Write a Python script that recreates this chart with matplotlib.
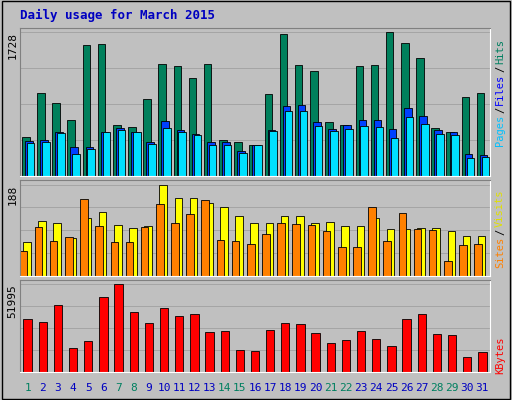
import matplotlib
matplotlib.use("Agg")
import matplotlib.pyplot as plt
import numpy as np

days = list(range(1, 32))
hits = [470,999,882,670,1575,1587,611,588,929,1352,1328,1176,1352,435,411,376,987,1704,1340,1258,647,611,1317,1340,1728,1599,1422,576,529,952,999]
files = [423,435,529,353,353,529,576,529,411,658,552,505,411,411,306,376,552,846,858,647,564,611,670,670,564,823,717,552,529,259,247]
pages = [400,411,517,259,329,529,552,529,388,576,529,494,376,376,282,376,541,776,776,600,541,564,600,588,458,705,623,505,494,212,223]
visits = [69,114,110,78,119,131,104,98,102,188,161,161,151,141,123,110,110,123,123,110,112,102,102,119,96,96,98,98,92,82,82]
sites = [51,100,72,80,159,102,69,69,100,149,110,127,157,74,72,65,86,110,106,104,92,59,59,141,72,129,96,94,31,63,65]
kbytes = [31318,29545,39590,14182,18318,44318,51995,35455,28955,37818,33091,34273,23636,24227,13000,12409,24818,28955,28364,23045,17136,18909,24227,19500,15364,31318,34273,22455,21864,8864,11818]
weekend = {1,7,8,14,15,21,22,28,29}

BG = "#C0C0C0"
fig = plt.figure(figsize=(5.12, 4.0), dpi=100, facecolor=BG)
mono = "DejaVu Sans Mono"
fig.text(20/512, 1-15/400, "Daily usage for March 2015", color="#0000C0", fontweight="bold",
         family=mono, fontsize=9, va="center", ha="left")

x = np.array(days)
def mk(bottom, height):
    ax = fig.add_axes([20/512, bottom, 470/512, height], facecolor=BG)
    ax.set_xlim(0.5, 31.5)
    for s in ax.spines.values():
        s.set_color("#808080")
    ax.spines["bottom"].set_color("white"); ax.spines["right"].set_color("white")
    ax.set_xticks([])
    ax.tick_params(axis="y", length=0, labelsize=8, pad=2)
    return ax

ax1 = mk(1-176/400, 148/400)
ax1.set_ylim(0, 1728*1.03)
for v in np.linspace(0, 1728, 5)[1:]:
    ax1.axhline(v, color="#A0A0A0", lw=0.6, zorder=0)
ax1.bar(x-0.12, hits, width=0.5, color="#00805C", edgecolor="black", lw=0.6)
ax1.bar(x+0.08, files, width=0.5, color="#0040FF", edgecolor="black", lw=0.6)
ax1.bar(x+0.2, pages, width=0.5, color="#00E0FF", edgecolor="black", lw=0.6)
ax1.set_yticks([1728]); ax1.set_yticklabels(["1728"], rotation=90, va="top", family=mono)

ax2 = mk(1-276/400, 96/400)
ax2.set_ylim(0, 188*1.05)
for v in np.linspace(0, 188, 5)[1:]:
    ax2.axhline(v, color="#A0A0A0", lw=0.6, zorder=0)
ax2.bar(x-0.05, visits, width=0.5, color="#FFFF00", edgecolor="black", lw=0.6)
ax2.bar(x-0.28, sites, width=0.5, color="#FF8000", edgecolor="black", lw=0.6)
ax2.set_yticks([188]); ax2.set_yticklabels(["188"], rotation=90, va="top", family=mono)

ax3 = mk(1-372/400, 92/400)
ax3.set_ylim(0, 51995*1.05)
for v in np.linspace(0, 51995, 5)[1:]:
    ax3.axhline(v, color="#A0A0A0", lw=0.6, zorder=0)
ax3.bar(x, kbytes, width=0.55, color="#FF0000", edgecolor="black", lw=0.6)
ax3.set_yticks([51995]); ax3.set_yticklabels(["51995"], rotation=90, va="top", family=mono)
ax3.set_xticks(days)
ax3.set_xticklabels([str(d) for d in days], family=mono, fontsize=8)
for d, lab in zip(days, ax3.get_xticklabels()):
    lab.set_color("#008060" if d in weekend else "#0000C0")
ax3.tick_params(axis="x", length=0, pad=8)

def side(parts, y0, fs=7.5):
    y = y0
    cw = fs * 100 / 72 * 0.61
    for txt, col in parts:
        fig.text(500/512, 1-y/400, txt, color=col, rotation=90, family=mono, fontsize=fs,
                 ha="center", va="bottom")
        y -= len(txt)*cw + 1.5
side([("Pages", "#00C0FF"), ("/", "#000000"), ("Files", "#0000FF"), ("/", "#000000"), ("Hits", "#008060")], 146)
side([("Sites", "#FF8000"), ("/", "#000000"), ("Visits", "#E0E000")], 268)
side([("KBytes", "#FF0000")], 374)

fig.patches.append(plt.Rectangle((0.003, 0.003), 0.994, 0.994, transform=fig.transFigure,
                                 fill=False, edgecolor="black", lw=1))
fig.savefig("out.png", dpi=100, facecolor=BG)
